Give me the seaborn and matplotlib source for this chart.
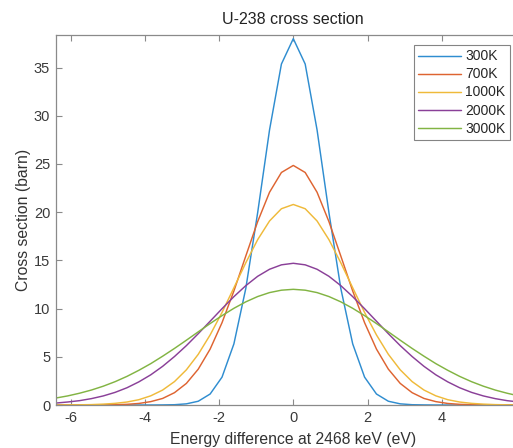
import matplotlib
matplotlib.use('Agg')
import numpy as np
import pandas as pd
import matplotlib.pyplot as plt
import seaborn as sns

# ── data ──────────────────────────────────────────────────────────────
energy = [-6.40, -6.08, -5.76, -5.44, -5.12, -4.80, -4.48, -4.16, -3.84, -3.52,
          -3.20, -2.88, -2.56, -2.24, -1.92, -1.60, -1.28, -0.96, -0.64, -0.32,
          0.00, 0.32, 0.64, 0.96, 1.28, 1.60, 1.92, 2.24, 2.56, 2.88,
          3.20, 3.52, 3.84, 4.16, 4.48, 4.80, 5.12, 5.44, 5.76, 6.08, 6.40]

cs_300K = [0.00, 0.00, 0.00, 0.00, 0.00, 0.00, 0.00, 0.00, 0.00, 0.01,
           0.03, 0.12, 0.39, 1.14, 2.89, 6.34, 12.08, 19.95, 28.54, 35.37,
           38.00, 35.37, 28.54, 19.95, 12.08, 6.34, 2.89, 1.14, 0.39, 0.12,
           0.03, 0.01, 0.00, 0.00, 0.00, 0.00, 0.00, 0.00, 0.00, 0.00, 0.00]

cs_700K = [0.00, 0.00, 0.00, 0.00, 0.01, 0.03, 0.07, 0.16, 0.35, 0.68,
           1.28, 2.24, 3.72, 5.80, 8.54, 11.83, 15.45, 19.02, 22.07, 24.12,
           24.85, 24.12, 22.07, 19.02, 15.45, 11.83, 8.54, 5.80, 3.72, 2.24,
           1.28, 0.68, 0.35, 0.16, 0.07, 0.03, 0.01, 0.00, 0.00, 0.00, 0.00]

cs_1000K = [0.00, 0.01, 0.02, 0.04, 0.09, 0.17, 0.31, 0.55, 0.95, 1.55,
            2.43, 3.65, 5.26, 7.27, 9.60, 12.16, 14.75, 17.15, 19.09, 20.36,
            20.80, 20.36, 19.09, 17.15, 14.75, 12.16, 9.60, 7.27, 5.26, 3.65,
            2.43, 1.55, 0.95, 0.55, 0.31, 0.17, 0.09, 0.04, 0.02, 0.01, 0.00]

cs_2000K = [0.20, 0.31, 0.45, 0.66, 0.94, 1.31, 1.79, 2.40, 3.13, 4.01,
            5.03, 6.16, 7.40, 8.69, 9.99, 11.24, 12.38, 13.35, 14.08, 14.54,
            14.70, 14.54, 14.08, 13.35, 12.38, 11.24, 9.99, 8.69, 7.40, 6.16,
            5.03, 4.01, 3.13, 2.40, 1.79, 1.31, 0.94, 0.66, 0.45, 0.31, 0.20]

cs_3000K = [0.72, 0.94, 1.22, 1.55, 1.95, 2.42, 2.97, 3.60, 4.29, 5.06,
            5.87, 6.72, 7.59, 8.45, 9.27, 10.03, 10.70, 11.25, 11.66, 11.91,
            12.00, 11.91, 11.66, 11.25, 10.70, 10.03, 9.27, 8.45, 7.59, 6.72,
            5.87, 5.06, 4.29, 3.60, 2.97, 2.42, 1.95, 1.55, 1.22, 0.94, 0.72]

temps = ['300K', '700K', '1000K', '2000K', '3000K']
series = [cs_300K, cs_700K, cs_1000K, cs_2000K, cs_3000K]
colors = ['#2F8DD0', '#DE6431', '#EFBA3A', '#8A4098', '#82B443']

x_ticks = [-6, -4, -2, 0, 2, 4, 6]
y_ticks = [0, 5, 10, 15, 20, 25, 30, 35]

# long-form table for seaborn
df = pd.concat([pd.DataFrame({'energy': energy, 'cs': vals, 'temp': t})
                for t, vals in zip(temps, series)], ignore_index=True)

# ── plot ──────────────────────────────────────────────────────────────
sns.set_style('ticks')
plt.rcParams['font.family'] = ['Liberation Sans', 'DejaVu Sans']
plt.rcParams['axes.unicode_minus'] = False

fig = plt.figure(figsize=(5.13, 4.48), dpi=100)
# axes runs past the right edge, as in the (cropped) reference
ax = fig.add_axes([55.7 / 513, 43 / 448, (530.9 - 55.7) / 513, (412.7 - 43) / 448])

sns.lineplot(data=df, x='energy', y='cs', hue='temp', hue_order=temps,
             palette=colors, estimator=None, lw=1.05, ax=ax)

ax.set_xlim(-6.4, 6.4)
ax.set_ylim(0, 38.35)
ax.set_xticks(x_ticks)
ax.set_yticks(y_ticks)

axis_grey = '#8a8a8a'
for sp in ax.spines.values():
    sp.set_visible(True)
    sp.set_color(axis_grey)
    sp.set_linewidth(0.9)
ax.tick_params(direction='in', top=True, right=True, length=4.5, width=0.8,
               color=axis_grey, labelsize=10.5, labelcolor='#3a3a3a', pad=4)

ax.set_title('U-238 cross section', fontsize=11.5, color='#222222', pad=8)
ax.set_xlabel('Energy difference at 2468 keV (eV)', fontsize=11.3,
              color='#333333', labelpad=5)
ax.set_ylabel('Cross section (barn)', fontsize=11.3, color='#333333',
              labelpad=2)

handles, labels = ax.get_legend_handles_labels()
ax.legend(handles, labels, loc='upper right',
          bbox_to_anchor=(510 / 513, 1 - 45 / 448),
          bbox_transform=fig.transFigure, borderaxespad=0,
          frameon=True, fancybox=False, edgecolor='#666666',
          fontsize=10, handlelength=3.1, labelspacing=0.29,
          handletextpad=0.3, borderpad=0.32, title=None)
ax.get_legend().get_frame().set_linewidth(0.8)

fig.savefig('out.png', dpi=100)
plt.close(fig)
